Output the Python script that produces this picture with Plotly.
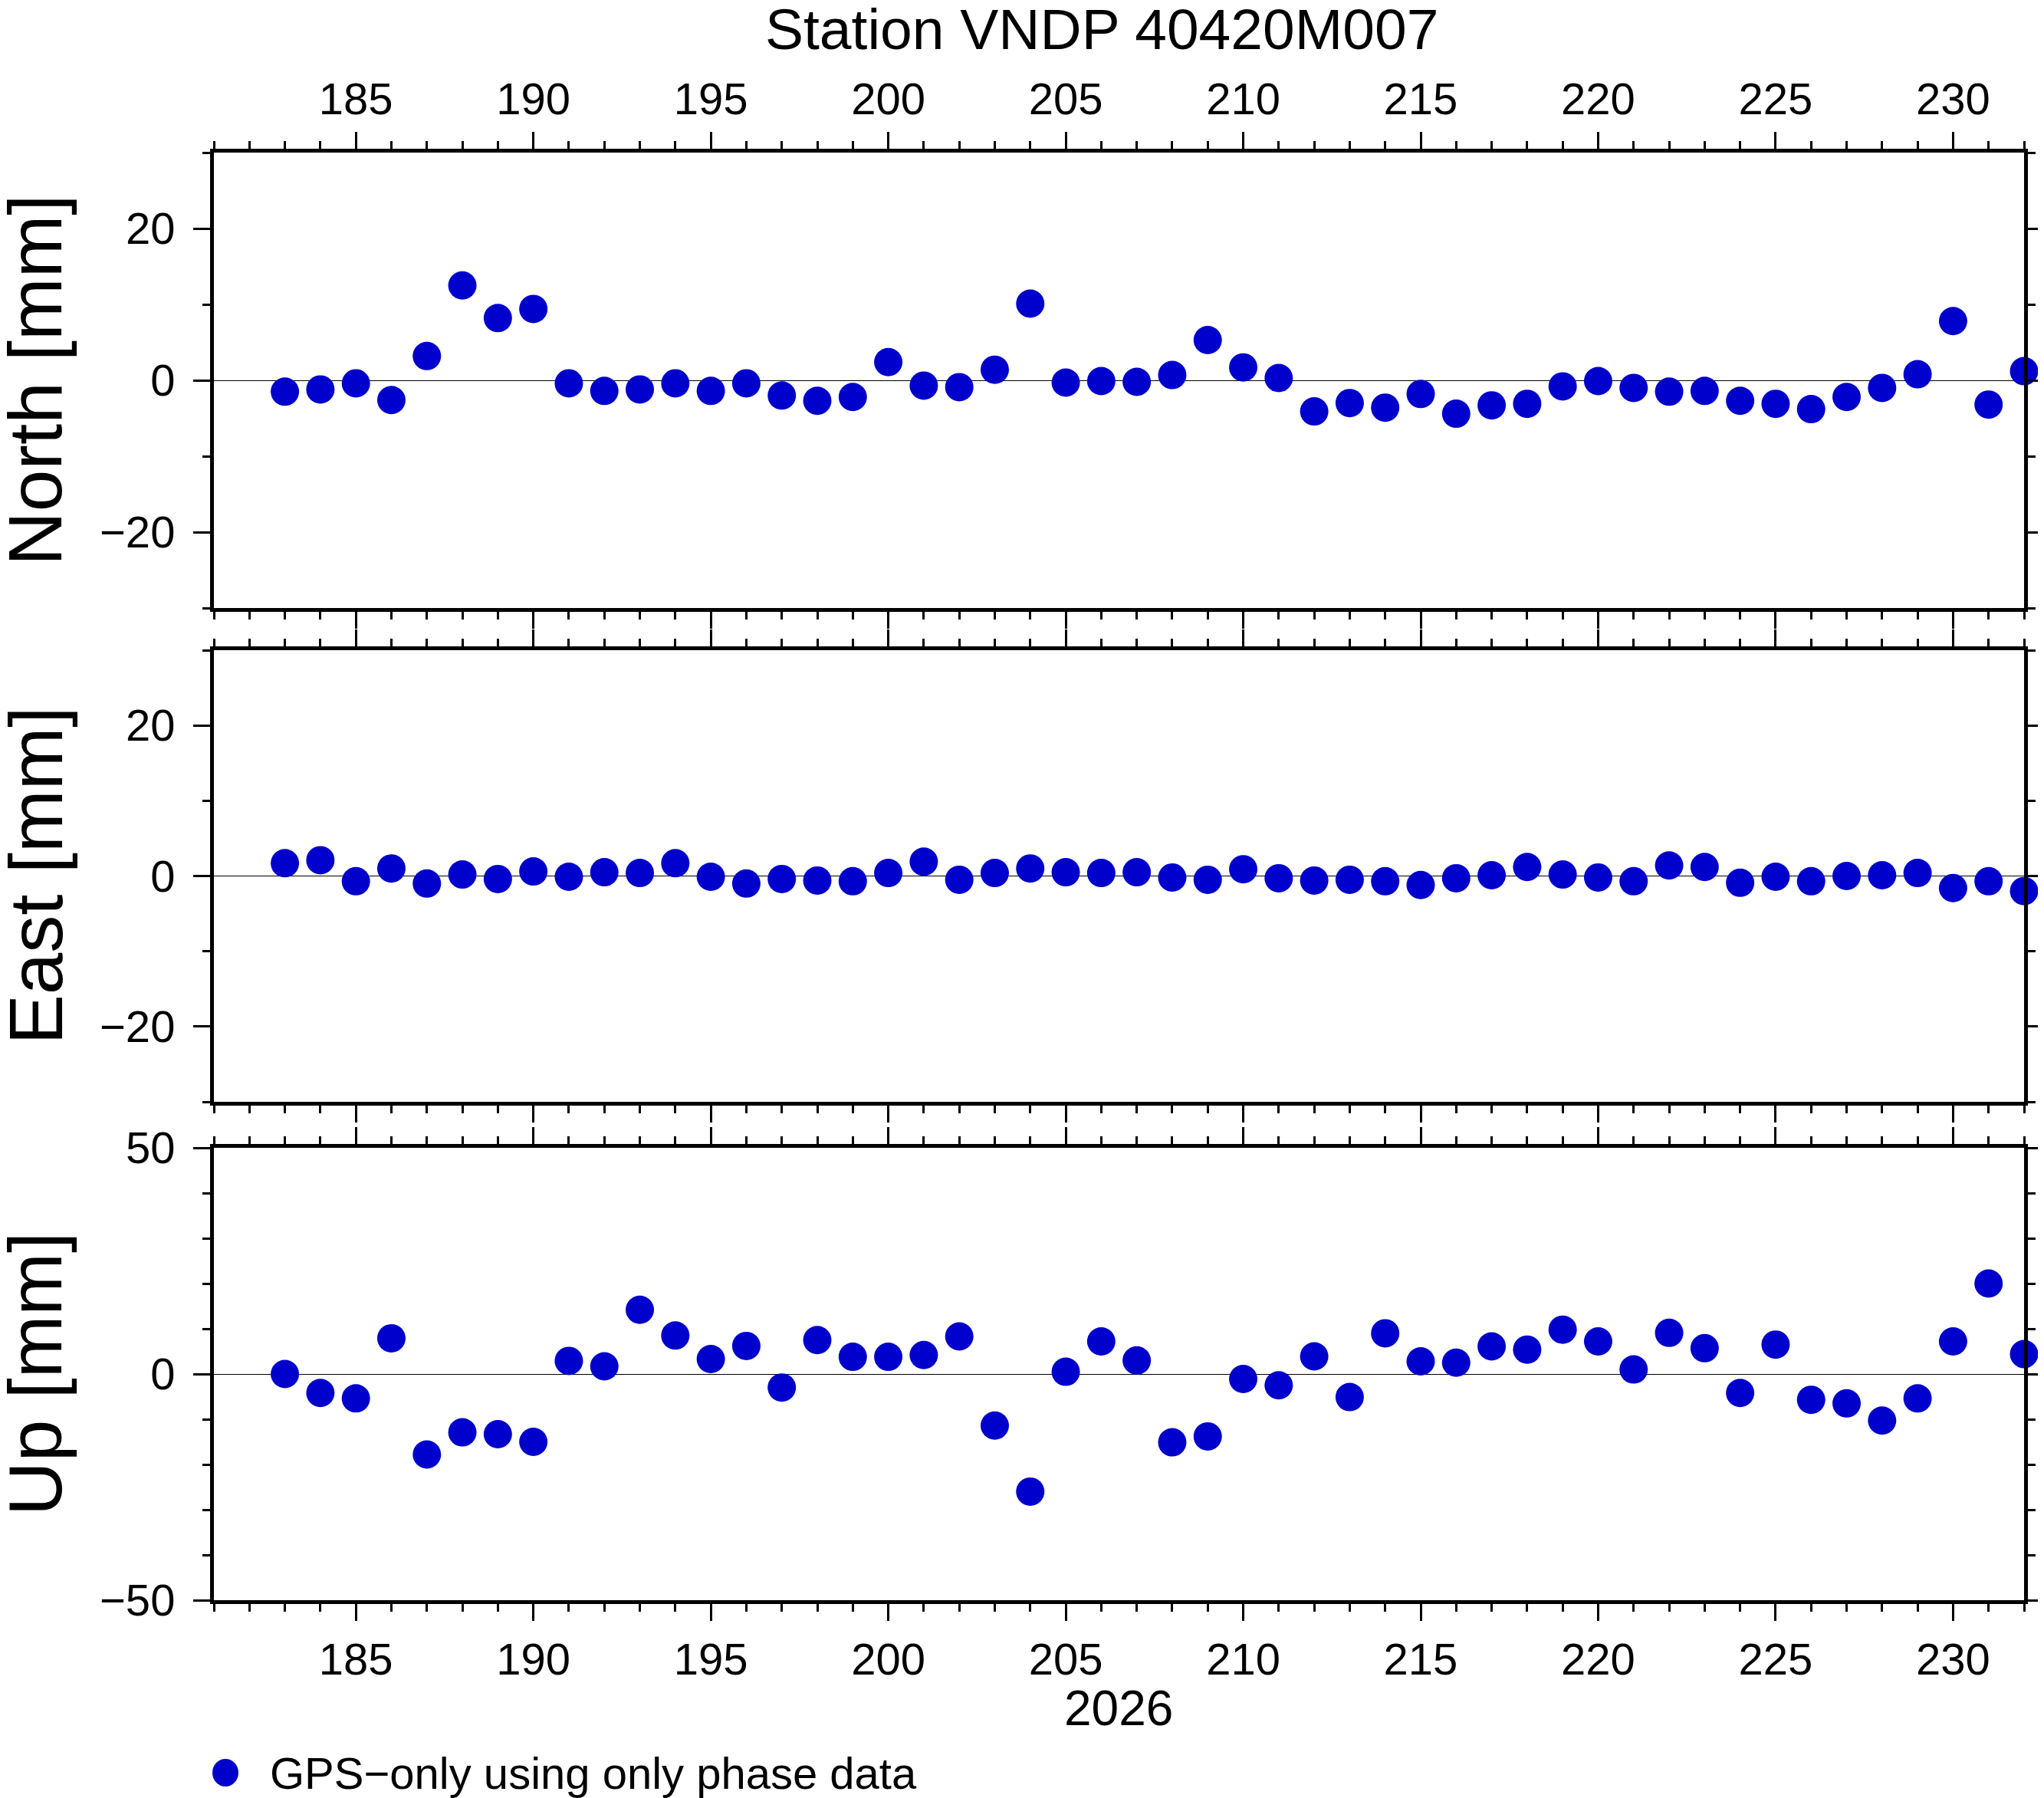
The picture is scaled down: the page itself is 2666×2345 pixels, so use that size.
import plotly.graph_objects as go

# Datos: día del año 2026 y residuos en mm
days = list(range(183, 233))
north = [-1.5, -1.2, -0.4, -2.6, 3.2, 12.5, 8.2, 9.4, -0.4, -1.4,
         -1.2, -0.4, -1.4, -0.4, -2.0, -2.7, -2.2, 2.4, -0.7, -0.9,
         1.4, 10.1, -0.3, -0.1, -0.2, 0.7, 5.3, 1.7, 0.3, -4.1,
         -3.0, -3.6, -1.8, -4.4, -3.3, -3.1, -0.8, -0.1, -1.0, -1.5,
         -1.4, -2.7, -3.1, -3.8, -2.2, -1.0, 0.8, 7.8, -3.2, 1.2]
east = [1.7, 2.1, -0.7, 1.0, -1.0, 0.2, -0.4, 0.6, -0.1, 0.5,
        0.4, 1.7, -0.1, -1.0, -0.4, -0.6, -0.7, 0.4, 1.9, -0.5,
        0.4, 1.0, 0.5, 0.4, 0.5, -0.2, -0.5, 0.9, -0.3, -0.6,
        -0.5, -0.7, -1.2, -0.3, 0.1, 1.2, 0.2, -0.2, -0.7, 1.4,
        1.2, -0.9, -0.1, -0.7, 0.0, 0.1, 0.4, -1.6, -0.7, -2.0]
up = [0.0, -4.2, -5.4, 7.9, -17.8, -12.9, -13.3, -15.0, 2.9, 1.7,
      14.2, 8.5, 3.3, 6.2, -3.0, 7.5, 3.8, 3.8, 4.2, 8.3,
      -11.4, -26.0, 0.5, 7.2, 3.0, -15.1, -13.8, -1.1, -2.5, 3.9,
      -5.1, 9.0, 2.8, 2.5, 6.1, 5.4, 9.8, 7.2, 1.0, 9.1,
      5.7, -4.2, 6.5, -5.7, -6.5, -10.3, -5.4, 7.2, 20.0, 4.4]

panels = ['North [mm]', 'East [mm]', 'Up [mm]']
series = [north, east, up]
title = 'Station VNDP 40420M007'
year_label = '2026'
legend_label = 'GPS\u2212only using only phase data'

FONT = 'Liberation Sans, Arial, Helvetica, sans-serif'
BLUE = '#0000cc'
W, H = 2666, 2345
# el <body> de la página añade 8 px, se compensa en los márgenes
OFF = 8
X0, X1, Y0, Y1 = 279, 2640, 199, 2087  # área de dibujo en la página
L, R, T, B = X0 - OFF, W - X1 + OFF, Y0 - OFF, H - Y1 + OFF


def py(pix):
    # pixel vertical de la página -> coordenada paper
    return (Y1 - pix) / (Y1 - Y0)


def px(pix):
    return (pix - X0) / (X1 - X0)


domains = [[py(793), 1.0], [py(1437), py(848)], [0.0, py(1497)]]

fig = go.Figure()
for i, vals in enumerate(series):
    n = '' if i == 0 else str(i + 1)
    fig.add_trace(go.Scatter(
        x=days, y=vals, mode='markers', xaxis='x' + n, yaxis='y' + n,
        marker=dict(color=BLUE, size=37, line=dict(width=0)),
        cliponaxis=False, showlegend=False))

tick_common = dict(
    ticks='outside', ticklen=22, tickwidth=3, tickcolor='black',
    showline=True, linewidth=5, linecolor='black', mirror='ticks',
    showgrid=False, automargin=False,
    tickfont=dict(family=FONT, size=58, color='black'),
)

layout = dict(
    width=W, height=H, plot_bgcolor='white', paper_bgcolor='white',
    margin=dict(l=L, r=R, t=T, b=B, autoexpand=False), showlegend=False,
)

for i in range(3):
    n = '' if i == 0 else str(i + 1)
    layout['xaxis' + n] = dict(
        range=[181, 232], anchor='y' + n, dtick=5, tick0=185,
        side='top' if i == 0 else 'bottom',
        showticklabels=(i != 1), ticklabelstandoff=0,
        minor=dict(dtick=1, ticks='outside', ticklen=10, tickwidth=3, tickcolor='black'),
        zeroline=False, **tick_common)
    if i < 2:
        yr = dict(range=[-30, 30], tickvals=[-20, 0, 20])
    else:
        yr = dict(range=[-50, 50], tickvals=[-50, 0, 50])
    layout['yaxis' + n] = dict(
        domain=domains[i], anchor='x' + n, ticklabelstandoff=12,
        minor=dict(dtick=10, tick0=0, ticks='outside', ticklen=10, tickwidth=3, tickcolor='black'),
        zeroline=True, zerolinecolor='black', zerolinewidth=1.2,
        **yr, **tick_common)

fig.update_layout(**layout)

# Títulos de los ejes Y
for i, name in enumerate(panels):
    d = domains[i]
    fig.add_annotation(text=name, xref='paper', yref='paper',
                       x=px(46), y=(d[0] + d[1]) / 2, textangle=-90,
                       showarrow=False, xanchor='center', yanchor='middle',
                       font=dict(family=FONT, size=98, color='black'))

fig.add_annotation(text=title, xref='paper', yref='paper', x=px(1437), y=py(38),
                   showarrow=False, xanchor='center', yanchor='middle',
                   font=dict(family=FONT, size=75, color='black'))
fig.add_annotation(text=year_label, xref='paper', yref='paper', x=px(1459), y=py(2228),
                   showarrow=False, xanchor='center', yanchor='middle',
                   font=dict(family=FONT, size=64, color='black'))

# Leyenda dibujada a mano (el símbolo de la leyenda de plotly queda muy pequeño)
fig.add_shape(type='circle', xref='paper', yref='paper',
              xsizemode='pixel', ysizemode='pixel',
              xanchor=px(294), yanchor=py(2312), x0=-17, x1=17, y0=-18, y1=18,
              fillcolor=BLUE, line=dict(width=0))
fig.add_annotation(text=legend_label, xref='paper', yref='paper', x=px(350), y=py(2312),
                   showarrow=False, xanchor='left', yanchor='middle',
                   font=dict(family=FONT, size=58, color='black'))

fig.write_html("out.html")
